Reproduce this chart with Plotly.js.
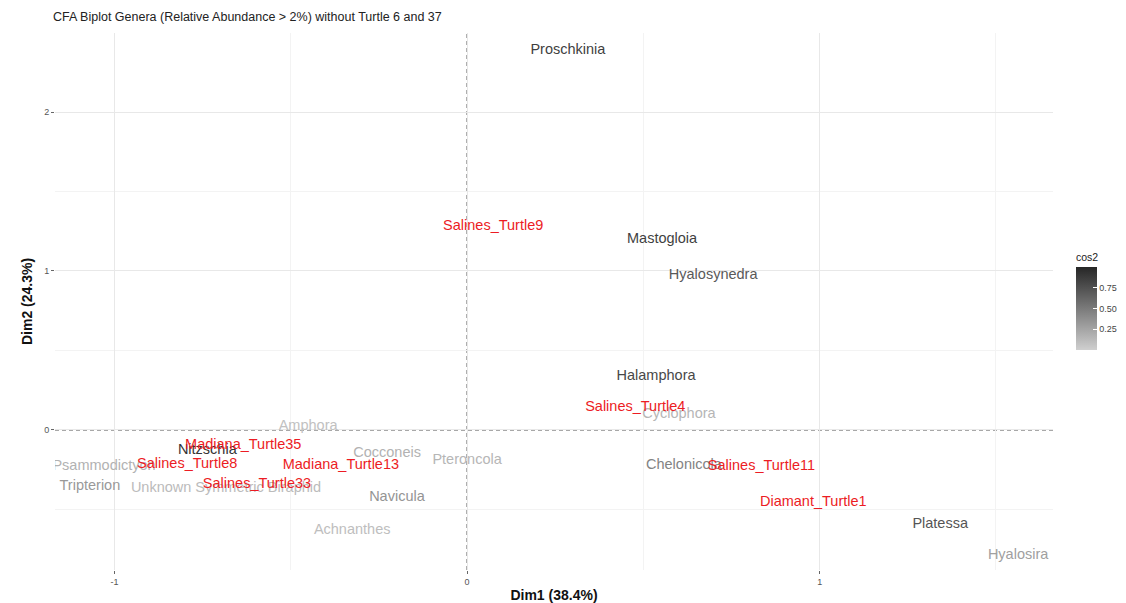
<!DOCTYPE html>
<html>
<head>
<meta charset="utf-8">
<script src="https://cdn.plot.ly/plotly-3.0.1.min.js"></script>
<style>
  html, body { margin: 0; padding: 0; background: #fff; }
  #chart { width: 1126px; height: 603px; }
</style>
</head>
<body>
<div id="chart"></div>
<script>
// Column points (genera): CA coordinates and quality of representation (cos2)
const genera = ["Proschkinia", "Mastogloia", "Hyalosynedra", "Halamphora", "Cyclophora",
  "Chelonicola", "Platessa", "Hyalosira", "Amphora", "Nitzschia", "Cocconeis", "Pteroncola",
  "Psammodictyon", "Tripterion", "Unknown Symmetric Biraphid", "Navicula", "Achnanthes"];
const generaDim1 = [0.286, 0.553, 0.698, 0.536, 0.601, 0.615, 1.342, 1.563, -0.451, -0.737,
  -0.227, 0.0, -1.03, -1.07, -0.684, -0.199, -0.326];
const generaDim2 = [2.39, 1.20, 0.97, 0.34, 0.095, -0.22, -0.596, -0.79, 0.02, -0.13,
  -0.145, -0.19, -0.227, -0.355, -0.37, -0.427, -0.634];
const generaCos2 = [0.85, 0.85, 0.70, 0.80, 0.15, 0.45, 0.72, 0.28, 0.08, 0.92,
  0.17, 0.15, 0.17, 0.32, 0.12, 0.35, 0.10];

// Row points (samples)
const samples = ["Salines_Turtle9", "Salines_Turtle4", "Salines_Turtle11", "Diamant_Turtle1",
  "Madiana_Turtle35", "Salines_Turtle8", "Madiana_Turtle13", "Salines_Turtle33"];
const samplesDim1 = [0.074, 0.477, 0.835, 0.982, -0.635, -0.794, -0.358, -0.596];
const samplesDim2 = [1.28, 0.14, -0.23, -0.455, -0.10, -0.216, -0.226, -0.342];

const cosLow = [207, 207, 207];
const cosHigh = [38, 38, 38];
const cosScale = [[0, "rgb(207,207,207)"], [1, "rgb(38,38,38)"]];

function cosColor(v) {
  const c = cosLow.map((lo, i) => Math.round(lo + (cosHigh[i] - lo) * v));
  return "rgb(" + c.join(",") + ")";
}

const labelFont = "Liberation Sans, Arial, sans-serif";

const traces = [
  {
    // invisible markers carrying the cos2 colour scale
    type: "scatter",
    mode: "markers",
    x: generaDim1,
    y: generaDim2,
    marker: {
      size: 1,
      opacity: 0,
      color: generaCos2,
      colorscale: cosScale,
      cmin: 0,
      cmax: 1,
      showscale: true,
      colorbar: {
        title: { text: "cos2", side: "top", font: { family: labelFont, size: 10.5, color: "#222" } },
        x: 1.023,
        xanchor: "left",
        xpad: 0,
        y: 0.503,
        yanchor: "middle",
        ypad: 0,
        len: 100,
        lenmode: "pixels",
        thickness: 21,
        outlinewidth: 0,
        tickvals: [0.25, 0.5, 0.75],
        ticktext: ["0.25", "0.50", "0.75"],
        ticks: "inside",
        ticklen: 4,
        tickcolor: "#ffffff",
        tickfont: { family: labelFont, size: 9, color: "#444" }
      }
    },
    hoverinfo: "skip",
    showlegend: false
  },
  {
    type: "scatter",
    mode: "text",
    x: generaDim1,
    y: generaDim2,
    text: genera,
    textposition: "middle center",
    textfont: { family: labelFont, size: 14.5, color: generaCos2.map(cosColor) },
    hoverinfo: "text",
    showlegend: false
  },
  {
    type: "scatter",
    mode: "text",
    x: samplesDim1,
    y: samplesDim2,
    text: samples,
    textposition: "middle center",
    textfont: { family: labelFont, size: 14.5, color: "#ec1c24" },
    hoverinfo: "text",
    showlegend: false
  }
];

const layout = {
  width: 1126,
  height: 603,
  paper_bgcolor: "#ffffff",
  plot_bgcolor: "#ffffff",
  margin: { l: 55, r: 73, t: 33, b: 33, autoexpand: false },
  title: {
    text: "CFA Biplot Genera (Relative Abundance > 2%) without Turtle 6 and 37",
    font: { family: labelFont, size: 12.5, color: "#222" },
    x: 53 / 1126,
    xanchor: "left",
    xref: "container",
    y: 1 - 17 / 603,
    yanchor: "middle",
    yref: "container"
  },
  xaxis: {
    range: [-1.169, 1.662],
    tickvals: [-1, 0, 1],
    ticktext: ["-1", "0", "1"],
    ticks: "outside",
    ticklen: 3,
    tickcolor: "#666",
    tickfont: { family: labelFont, size: 9, color: "#555" },
    showgrid: true,
    gridcolor: "#e8e8e8",
    gridwidth: 1,
    minor: { dtick: 0.5, tick0: 0, showgrid: true, gridcolor: "#f3f3f3", gridwidth: 1 },
    zeroline: false,
    showline: false,
    title: { text: "<b>Dim1 (38.4%)</b>", font: { family: labelFont, size: 14, color: "#111" }, standoff: 4 }
  },
  yaxis: {
    range: [-0.881, 2.497],
    tickvals: [0, 1, 2],
    ticktext: ["0", "1", "2"],
    ticks: "outside",
    ticklen: 3,
    tickcolor: "#666",
    tickfont: { family: labelFont, size: 9, color: "#555" },
    showgrid: true,
    gridcolor: "#e8e8e8",
    gridwidth: 1,
    minor: { dtick: 0.5, tick0: 0, showgrid: true, gridcolor: "#f3f3f3", gridwidth: 1 },
    zeroline: false,
    showline: false,
    title: { text: "<b>Dim2 (24.3%)</b>", font: { family: labelFont, size: 14, color: "#111" }, standoff: 8 }
  },
  shapes: [
    { type: "line", xref: "paper", yref: "y", x0: 0, x1: 1, y0: 0, y1: 0,
      line: { color: "#3a3a3a", width: 1, dash: "4px,3px" }, layer: "below" },
    { type: "line", xref: "x", yref: "paper", x0: 0, x1: 0, y0: 0, y1: 1,
      line: { color: "#3a3a3a", width: 1, dash: "4px,3px" }, layer: "below" }
  ]
};

Plotly.newPlot("chart", traces, layout, { displayModeBar: false, staticPlot: true });
</script>
</body>
</html>
